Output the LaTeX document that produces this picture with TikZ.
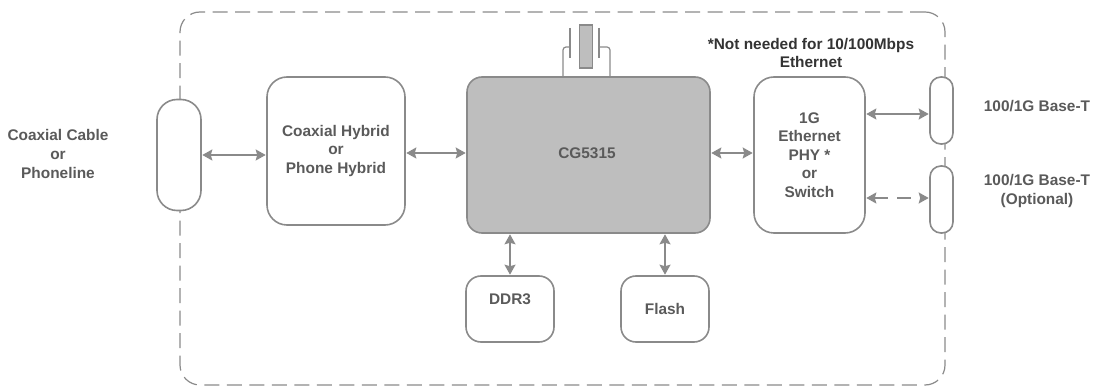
\documentclass[tikz,border=0pt]{standalone}
\usepackage{fontspec}
\setmainfont{Liberation Sans}
\usetikzlibrary{arrows.meta, positioning}
\definecolor{linegray}{HTML}{8A8A8A}
\definecolor{chipgray}{HTML}{BEBEBE}
\definecolor{labelgray}{HTML}{5A5A5A}

\begin{document}
\begin{tikzpicture}[
  x=1pt, y=-1pt,
  every text node part/.style={align=center},
  every node/.style={font=\bfseries\fontsize{15.4}{18.6}\selectfont, text=labelgray},
  block/.style={draw=linegray, line width=1.6pt, fill=white, inner sep=0pt},
  chipsty/.style={block, fill=chipgray, rounded corners=15pt},
  link/.style={draw=linegray, line width=1.6pt, {Stealth[length=10pt,width=11pt,inset=1.5pt]}-{Stealth[length=10pt,width=11pt,inset=1.5pt]}, shorten <=.5pt, shorten >=.5pt},
  wire/.style={draw=linegray, line width=1.2pt, rounded corners=3pt}
]

\useasboundingbox (0,0) rectangle (1093,387);

%board outline
\node[draw=linegray, line width=1.2pt, dash pattern=on 15pt off 7.5pt, rounded corners=20pt, minimum width=765pt, minimum height=373pt, inner sep=0pt] (board) at (562.5,198.5) {};

%blocks
\node[block, rounded corners=20pt, minimum width=44pt, minimum height=111pt] (coax) at (179,155) {};
\node[block, rounded corners=20pt, minimum width=138pt, minimum height=148pt] (hybrid) at (336,151) {Coaxial Hybrid\\or\\Phone Hybrid};
\node[chipsty, minimum width=243pt, minimum height=156pt] (cg) at (588.5,155) {};
\node (cglabel) at (587,153) {CG5315};
\node[block, rounded corners=20pt, minimum width=111pt, minimum height=156pt] (phy) at (809.5,155) {1G\\Ethernet\\PHY *\\or\\Switch};
\node[block, rounded corners=11pt, minimum width=23pt, minimum height=67pt] (portA) at (941.5,110.5) {};
\node[block, rounded corners=11pt, minimum width=23pt, minimum height=67pt] (portB) at (941.5,199.5) {};
\node[block, rounded corners=15pt, minimum width=88pt, minimum height=66pt] (ddr) at (510,309) {};
\node (ddrlabel) at (510,299) {DDR3};
\node[block, rounded corners=15pt, minimum width=88pt, minimum height=66pt] (flash) at (665,309) {Flash};

%crystal
\node[draw=linegray, line width=1.4pt, fill=chipgray, minimum width=13pt, minimum height=43pt, inner sep=0pt] (xtal) at (586,46.5) {};
\coordinate (platL) at (570,47);
\coordinate (platR) at (599,47);
\draw[wire] (563,0 |- cg.north) |- (platL);
\draw[wire] (610,0 |- cg.north) |- (platR);
\draw[wire] (570,28) -- (platL) -- (570,58);
\draw[wire] (599,28) -- (platR) -- (599,58);

%labels
\node (cablelabel) at (58,154) {Coaxial Cable\\or\\Phoneline};
\node (notelabel) at (811,53) {\textcolor{black!80}{*Not needed for 10/100Mbps}\\\textcolor{black!80}{Ethernet}};
\node (labelA) at (1037,106) {100/1G Base-T};
\node (labelB) at (1037,191) {100/1G Base-T\\(Optional)};

%connectors
\draw[link] (coax.east) -- (hybrid.west |- coax.east);
\draw[link] ([yshift=-2pt]hybrid.east) -- ([yshift=2pt]cg.west);
\draw[link] ([yshift=2pt]cg.east) -- ([yshift=2pt]phy.west);
\draw[link] ([yshift=-3.5pt]portA.west -| phy.east) -- ([yshift=-3.5pt]portA.west);
\draw[link, dash pattern=on 14pt off 9pt] ([yshift=1.5pt]portB.west -| phy.east) -- ([yshift=1.5pt]portB.west);
\draw[link] (ddr.north |- cg.south) -- (ddr.north);
\draw[link] (flash.north |- cg.south) -- (flash.north);

\end{tikzpicture}
\end{document}
